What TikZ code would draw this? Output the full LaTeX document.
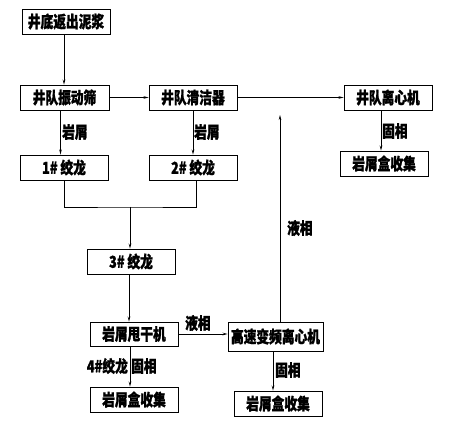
\documentclass[tikz,border=0pt]{standalone}
\usepackage{fontspec}
\newfontfamily\cjk{Noto Sans CJK SC}[FakeStretch=0.77, BoldFeatures={FakeBold=1.2}]
\usepackage{tikz}
\usetikzlibrary{positioning, arrows.meta}

\begin{document}
\begin{tikzpicture}[x=1pt, y=-1pt,
  unit/.style={draw, line width=0.8pt, minimum width=88pt, minimum height=25pt,
               inner sep=0pt, font=\cjk\bfseries\fontsize{16.5}{16.5}\selectfont},
  lbl/.style={inner sep=1pt, font=\cjk\bfseries\fontsize{16.5}{16.5}\selectfont},
  arr/.style={line width=0.8pt, -{Stealth[length=5pt, width=2.6pt]}},
  ln/.style={line width=0.8pt}
]
  \useasboundingbox (0,0) rectangle (457,430);

  % Units
  \node[unit] (src) at (66,21.5) {井底返出泥浆};
  \node[unit, minimum width=89pt] (shaker) at (64.5,97.5) {井队振动筛};
  \node[unit] (cleaner) at (193,97.5) {井队清洁器};
  \node[unit] (cent) at (388,97.5) {井队离心机};
  \node[unit] (binA) at (384,163.5) {岩屑盒收集};
  \node[unit] (augerA) at (64,167.5) {1\# 绞龙};
  \node[unit] (augerB) at (193,167.5) {2\# 绞龙};
  \node[unit] (augerC) at (131,261.5) {3\# 绞龙};
  \node[unit, minimum height=24pt] (dryer) at (134,334) {岩屑甩干机};
  \node[unit, minimum width=95pt, minimum height=29pt] (hsc) at (275.5,336.5) {高速变频离心机};
  \node[unit] (binB) at (134,399.5) {岩屑盒收集};
  \node[unit] (binC) at (278,403.5) {岩屑盒收集};

  % Joints
  \coordinate (join) at (130,207);
  \coordinate (up) at (280,115);

  % Flow
  \draw[arr] ([xshift=-2pt]src.south) -- ([xshift=-2pt]src.south |- shaker.north);
  \draw[arr] (shaker.east) -- (cleaner.west);
  \draw[arr] (cleaner.east) -- (cent.west);
  \draw[arr] ([xshift=-4pt]shaker.south) -- ([xshift=-4pt]shaker.south |- augerA.north);
  \draw[arr] (cleaner.south) -- (augerB.north);
  \draw[arr] ([xshift=-7pt]cent.south) -- ([xshift=-7pt]cent.south |- binA.north);
  \draw[ln] (augerA.south) |- (join) -| ([xshift=3pt]augerB.south);
  \draw[arr] (join) -- (join |- augerC.north);
  \draw[arr] ([xshift=-2pt]augerC.south) -- ([xshift=-2pt]augerC.south |- dryer.north);
  \draw[arr] (dryer.east) -- (dryer.east -| hsc.west);
  \draw[arr] ([xshift=-4pt]dryer.south) -- ([xshift=-4pt]dryer.south |- binB.north);
  \draw[arr] (hsc.north -| up) -- (up);
  \draw[arr] ([xshift=-2.5pt]hsc.south) -- ([xshift=-2.5pt]hsc.south |- binC.north);

  % Labels
  \node[lbl, right] (lblA) at (61,132) {岩屑};
  \node[lbl, right] (lblB) at (193,132) {岩屑};
  \node[lbl, right] (lblC) at (381,131) {固相};
  \node[lbl, right] (lblD) at (286,228) {液相};
  \node[lbl, right] (lblE) at (184,323) {液相};
  \node[lbl, right] (lblF) at (274,370) {固相};
  \node[lbl, left] (lblG) at (129,366) {4\#绞龙};
  \node[lbl, right] (lblH) at (130,366) {固相};
\end{tikzpicture}
\end{document}
